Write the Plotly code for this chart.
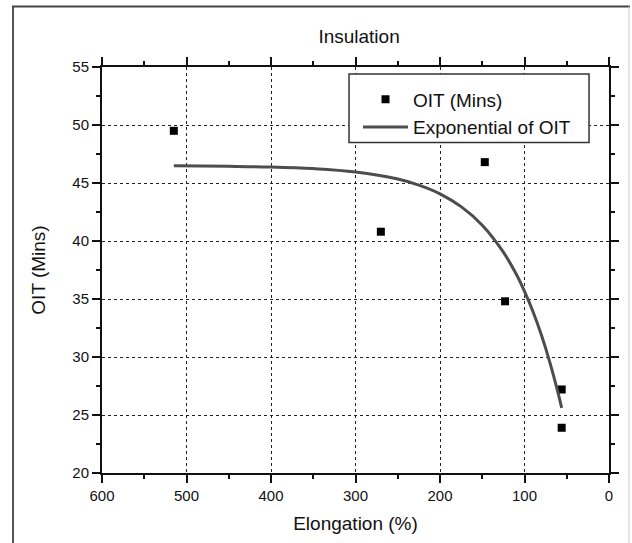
import plotly.graph_objects as go

# Measured samples
elongation = [515, 270, 147, 123, 56, 56]
oit_mins = [49.5, 40.8, 46.8, 34.8, 27.2, 23.9]

# Exponential fit curve of OIT vs elongation
fit_x = [515, 450, 400, 350, 300, 250, 225, 200, 175, 150, 125, 110, 100, 90, 80, 70, 60, 56]
fit_y = [46.48, 46.44, 46.38, 46.24, 45.95, 45.34, 44.82, 44.07, 42.96, 41.36,
         39.04, 37.17, 35.66, 33.92, 31.89, 29.54, 26.82, 25.61]

x_ticks = [0, 100, 200, 300, 400, 500, 600]
y_ticks = [20, 25, 30, 35, 40, 45, 50, 55]

FONT = "Liberation Sans, Arial, sans-serif"

fig = go.Figure()
fig.add_trace(go.Scatter(
    x=elongation, y=oit_mins, mode="markers", name="OIT (Mins)",
    marker=dict(symbol="square", size=8, color="#000000"),
))
fig.add_trace(go.Scatter(
    x=fit_x, y=fit_y, mode="lines", name="Exponential of OIT",
    line=dict(color="#4d4d4d", width=3, shape="spline"),
))

axis_common = dict(
    showline=True, linewidth=2, linecolor="#111111", mirror="allticks",
    ticks="outside", ticklen=8, tickwidth=1.5, tickcolor="#111111",
    showgrid=True, gridcolor="#222222", gridwidth=1, griddash="3px,3px",
    zeroline=False,
    tickfont=dict(family=FONT, size=15, color="#111111"),
)

fig.update_xaxes(
    range=[600, 0], tickvals=x_ticks,
    minor=dict(ticks="outside", ticklen=4, tickwidth=1.5, dtick=50, tick0=0,
               tickcolor="#111111", showgrid=False),
    title=dict(text="Elongation (%)", font=dict(family=FONT, size=19, color="#111111"),
               standoff=14),
    **axis_common,
)
fig.update_yaxes(
    range=[20, 55], tickvals=y_ticks,
    minor=dict(ticks="outside", ticklen=4, tickwidth=1.5, dtick=2.5, tick0=20,
               tickcolor="#111111", showgrid=False),
    title=dict(text="OIT (Mins)", font=dict(family=FONT, size=19, color="#111111"),
               standoff=22),
    **axis_common,
)

# Legend frame (opaque, covers the grid behind it)
fig.add_shape(type="rect", xref="paper", yref="paper",
              x0=0.4872, x1=0.9606, y0=0.814, y1=0.983,
              line=dict(color="#333333", width=1.5), fillcolor="white", layer="above")

# Outer figure frame
fig.add_shape(type="line", xref="paper", yref="paper",
              x0=-0.1755, x1=-0.1755, y0=1.149, y1=-0.2,
              line=dict(color="#555555", width=2))
fig.add_shape(type="line", xref="paper", yref="paper",
              x0=-0.1775, x1=1.0414, y0=1.149, y1=1.149,
              line=dict(color="#444444", width=2))
fig.add_shape(type="line", xref="paper", yref="paper",
              x0=1.0394, x1=1.0394, y0=1.149, y1=-0.2,
              line=dict(color="#cccccc", width=1))

fig.update_layout(
    width=632, height=543,
    margin=dict(l=102, r=23, t=67, b=67),
    paper_bgcolor="white", plot_bgcolor="rgba(0,0,0,0)",
    title=dict(text="Insulation", x=0.507, xref="paper", xanchor="center",
               y=1 - 36 / 543, yanchor="middle",
               font=dict(family=FONT, size=19, color="#111111")),
    legend=dict(x=0.505, xanchor="left", y=0.967, yanchor="top",
                bgcolor="rgba(0,0,0,0)", borderwidth=0, itemwidth=45,
                font=dict(family=FONT, size=19, color="#111111"),
                tracegroupgap=0),
    showlegend=True,
)

fig.write_html("out.html")
